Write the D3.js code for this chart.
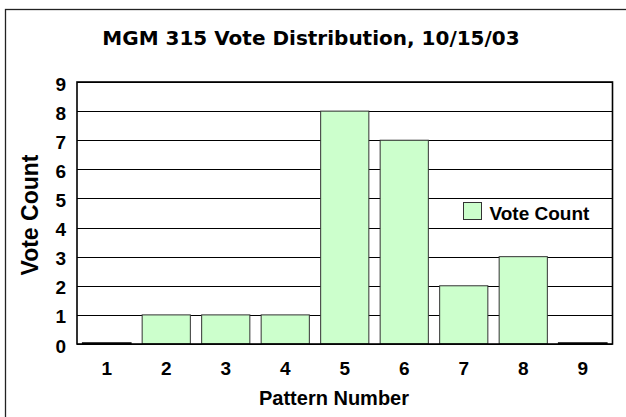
<!DOCTYPE html>
<html lang="en">
<head>
<meta charset="utf-8">
<script src="https://d3js.org/d3.v7.min.js"></script>
<style>
  body { margin: 0; background: #fff; }
  .tick-label { font: bold 19px "Liberation Sans", Arial, sans-serif; fill: #000; }
  .axis-title { font-family: "Liberation Sans", Arial, sans-serif; font-weight: bold; fill: #000; }
</style>
</head>
<body>
<svg width="626" height="417"></svg>
<script>
// data
var patterns = ["1", "2", "3", "4", "5", "6", "7", "8", "9"];
var votes = [0, 1, 1, 1, 8, 7, 2, 3, 0];
var yTicks = [0, 1, 2, 3, 4, 5, 6, 7, 8, 9];
var seriesName = "Vote Count";

var svg = d3.select("svg");

// outer frame (runs off the right and bottom edges)
svg.append("rect")
  .attr("x", 5.5).attr("y", 9.5)
  .attr("width", 700).attr("height", 500)
  .attr("fill", "none").attr("stroke", "#222").attr("stroke-width", 1.3);

var plotLeft = 77, plotRight = 612.5, plotTop = 82, plotBottom = 344;

var x = d3.scaleBand()
  .domain(patterns)
  .range([plotLeft, plotRight])
  .paddingInner(0.19)
  .paddingOuter(0.095);

var y = d3.scaleLinear()
  .domain([0, 9])
  .range([plotBottom, plotTop]);

// gridlines
svg.append("g").selectAll("line")
  .data(yTicks)
  .enter().append("line")
    .attr("x1", plotLeft).attr("x2", plotRight)
    .attr("y1", function(d) { return Math.round(y(d)) + 0.5; })
    .attr("y2", function(d) { return Math.round(y(d)) + 0.5; })
    .attr("stroke", "#000").attr("stroke-width", 1);

// bars (zero bars still show as a thick dark line on the baseline)
svg.append("g").selectAll("rect")
  .data(votes)
  .enter().append("rect")
    .attr("x", function(d, i) { return x(patterns[i]); })
    .attr("y", function(d) { return d === 0 ? y(0) - 1 : y(d); })
    .attr("width", x.bandwidth())
    .attr("height", function(d) { return Math.max(y(0) - y(d), 1); })
    .attr("fill", function(d) { return d === 0 ? "#000" : "#ccffcc"; })
    .attr("stroke", function(d) { return d === 0 ? "#000" : "#333"; })
    .attr("stroke-width", function(d) { return d === 0 ? 1.5 : 1; });

// plot border
svg.append("rect")
  .attr("x", plotLeft).attr("y", plotTop)
  .attr("width", plotRight - plotLeft).attr("height", plotBottom - plotTop)
  .attr("fill", "none").attr("stroke", "#000").attr("stroke-width", 1.6);

// y tick labels
svg.append("g").selectAll("text")
  .data(yTicks)
  .enter().append("text")
    .attr("class", "tick-label")
    .attr("x", 66)
    .attr("y", function(d) { return y(d) + 8.5; })
    .attr("text-anchor", "end")
    .text(function(d) { return d; });

// x tick labels
svg.append("g").selectAll("text")
  .data(patterns)
  .enter().append("text")
    .attr("class", "tick-label")
    .attr("x", function(d) { return x(d) + x.bandwidth() / 2; })
    .attr("y", 375)
    .attr("text-anchor", "middle")
    .text(function(d) { return d; });

// titles
svg.append("text")
  .attr("x", 311).attr("y", 45)
  .attr("text-anchor", "middle")
  .style("font", "bold 20px 'DejaVu Sans', Verdana, sans-serif")
  .text("MGM 315 Vote Distribution, 10/15/03");

svg.append("text")
  .attr("class", "axis-title")
  .attr("x", 334).attr("y", 405)
  .attr("text-anchor", "middle")
  .style("font-size", "20px")
  .text("Pattern Number");

svg.append("text")
  .attr("class", "axis-title")
  .attr("transform", "translate(38,215) rotate(-90)")
  .attr("text-anchor", "middle")
  .style("font-size", "23px")
  .text("Vote Count");

// legend
var legend = svg.append("g").attr("transform", "translate(463.5,202.5)");
legend.append("rect")
  .attr("width", 18).attr("height", 17)
  .attr("fill", "#ccffcc").attr("stroke", "#333").attr("stroke-width", 1);
legend.append("text")
  .attr("class", "axis-title")
  .attr("x", 26).attr("y", 17)
  .style("font-size", "19px")
  .text(seriesName);
</script>
</body>
</html>
